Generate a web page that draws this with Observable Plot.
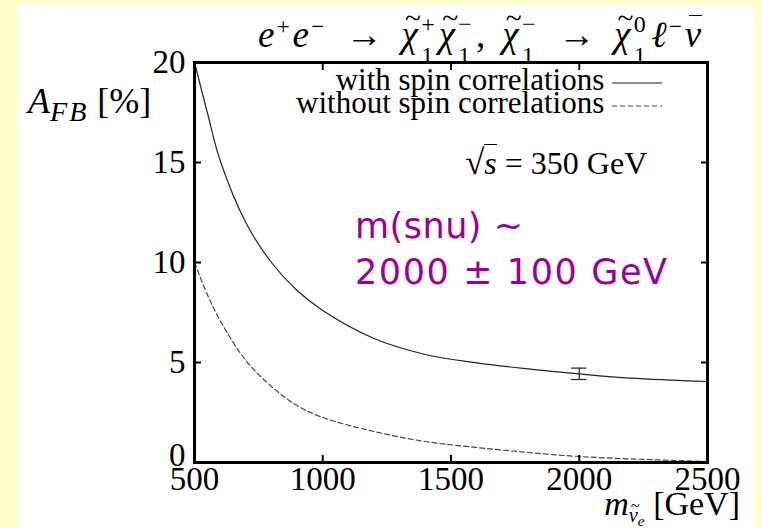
<!DOCTYPE html>
<html>
<head>
<meta charset="utf-8">
<script src="https://cdn.jsdelivr.net/npm/d3@7"></script>
<script src="https://cdn.jsdelivr.net/npm/@observablehq/plot@0.6"></script>
<style>
  html, body { margin: 0; padding: 0; }
  body { width: 761px; height: 528px; background: #FFFFCC; position: relative; overflow: hidden; font-family: "Liberation Serif", serif; }
  #panel { position: absolute; left: 17px; top: 5px; width: 737px; height: 523px; background: #ffffff; }
  #chart { position: absolute; left: 0; top: 0; }
  .ov { position: absolute; white-space: nowrap; color: #000; font-family: "Liberation Serif", "DejaVu Serif", serif; line-height: 1; }
  .ss { display: inline-block; position: relative; width: 0.85em; height: 0; font-size: 0.65em; font-style: normal; }
  .ss .up { position: absolute; left: 0.12em; top: -1.55em; line-height: 1.2; }
  .ss .dn { position: absolute; left: 0.12em; top: -0.25em; line-height: 1.2; }
  .acc { display: inline-block; position: relative; }
  .acc .tl { position: absolute; left: 0.12em; top: -0.42em; font-style: normal; font-size: 0.8em; }
  .acc .bar { position: absolute; left: 0.12em; top: -0.02em; width: 0.36em; border-top: 1.3px solid #000; }
  .sup { font-size: 0.62em; vertical-align: 0.55em; font-style: normal; margin-left: 0.08em; margin-right: 0.1em; }
  .arr { margin: 0 0.5em; }
  .purple { position: absolute; white-space: nowrap; color: #990099; font-family: "DejaVu Sans", sans-serif; font-size: 35px; }
</style>
</head>
<body>
<div id="panel"></div>
<div id="chart"></div>

<div class="ov" style="left:258px; top:16px; font-size:37px; letter-spacing:0.5px;">
  <i>e</i><span class="sup">+</span><i>e</i><span class="sup">−</span><span class="arr">→</span><span class="acc"><i>χ</i><span class="tl">~</span></span><span class="ss"><span class="up">+</span><span class="dn">1</span></span><span class="acc"><i>χ</i><span class="tl">~</span></span><span class="ss"><span class="up">−</span><span class="dn">1</span></span><span style="margin-right:0.45em">,</span><span class="acc"><i>χ</i><span class="tl">~</span></span><span class="ss"><span class="up">−</span><span class="dn">1</span></span><span class="arr">→</span><span class="acc"><i>χ</i><span class="tl">~</span></span><span class="ss"><span class="up">0</span><span class="dn">1</span></span><i>ℓ</i><span class="sup">−</span><span class="acc"><i>ν</i><span class="bar"></span></span>
</div>

<div class="ov" style="left:28px; top:83px; font-size:36px;">
  <i>A</i><sub style="font-size:0.78em; letter-spacing:2px;"><i>FB</i></sub> [%]
</div>

<div class="ov" style="right:99px; top:68px; font-size:31px; line-height:23px; text-align:right;">
  with spin correlations <svg width="50" height="10" style="vertical-align:middle"><line x1="0" x2="50" y1="5" y2="5" stroke="#222" stroke-width="1.2"/></svg><br>
  without spin correlations <svg width="50" height="10" style="vertical-align:middle"><line x1="0" x2="50" y1="5" y2="5" stroke="#444" stroke-width="1.2" stroke-dasharray="5,3"/></svg>
</div>

<div class="ov" style="left:465px; top:145px; font-size:32px;">
  <span style="font-size:1.1em">√</span><span style="border-top:1.5px solid #000;"><i>s</i></span> = 350 GeV
</div>

<div class="purple" style="left:355px; top:206px; letter-spacing:0.5px;">m(snu) ~</div>
<div class="purple" style="left:355px; top:252px; letter-spacing:1.6px;">2000 ± 100 GeV</div>

<div class="ov" style="right:21px; top:487px; font-size:34px;">
  <i>m</i><span style="font-size:0.6em; position:relative; top:0.35em;"><span class="acc"><i>ν</i><span class="tl">~</span></span><span style="font-size:0.75em; position:relative; top:0.25em;"><i>e</i></span></span> [GeV]
</div>

<script>
// Data
const mass = [500, 550, 600, 700, 800, 900, 1000, 1200, 1400, 1600, 1800, 2000, 2200, 2500];
const afbWithSpin = [20, 17.5, 15.1, 12.0, 10.0, 8.6, 7.6, 6.2, 5.4, 4.98, 4.68, 4.43, 4.22, 4.05];
const afbWithoutSpin = [10, 8.4, 7.1, 5.1, 3.8, 2.85, 2.25, 1.55, 1.05, 0.75, 0.5, 0.3, 0.18, 0.05];

const errMass = [2000];
const errCenter = [4.43];
const errLow = [4.15];
const errHigh = [4.72];
const errCapHalfWidth = 30; // in GeV units

const xTicks = [500, 1000, 1500, 2000, 2500];
const yTicks = [0, 5, 10, 15, 20];
const yTicksUpper = [5, 10, 15, 20];
const yTicksZero = [0];

const withSpin = mass.map((m, i) => ({m, a: afbWithSpin[i]}));
const withoutSpin = mass.map((m, i) => ({m, a: afbWithoutSpin[i]}));
const errData = errMass.map((m, i) => ({m, c: errCenter[i], lo: errLow[i], hi: errHigh[i], m1: m - errCapHalfWidth, m2: m + errCapHalfWidth}));

const fmt = d => String(d);

const chart = Plot.plot({
  width: 761,
  height: 528,
  marginLeft: 194,
  marginRight: 54,
  marginTop: 62,
  marginBottom: 66,
  x: {domain: [500, 2500]},
  y: {domain: [0, 20]},
  style: {background: "transparent", fontFamily: "Liberation Serif, serif", color: "#000", overflow: "visible"},
  marks: [
    Plot.line(withSpin, {x: "m", y: "a", curve: "catmull-rom", stroke: "#222", strokeWidth: 1.2}),
    Plot.line(withoutSpin, {x: "m", y: "a", curve: "catmull-rom", stroke: "#444", strokeWidth: 1.2, strokeDasharray: "5,3"}),
    Plot.ruleX(errData, {x: "m", y1: "lo", y2: "hi", stroke: "#222", strokeWidth: 1.2}),
    Plot.ruleY(errData, {y: "lo", x1: "m1", x2: "m2", stroke: "#222", strokeWidth: 1.2}),
    Plot.ruleY(errData, {y: "hi", x1: "m1", x2: "m2", stroke: "#222", strokeWidth: 1.2}),
    Plot.axisX({ticks: xTicks, tickSize: 0, tickPadding: 4, tickFormat: fmt, fontSize: 33, label: null}),
    Plot.axisX({ticks: xTicks, tickSize: -7, tickFormat: () => "", strokeWidth: 2, label: null}),
    Plot.axisX({anchor: "top", ticks: xTicks, tickSize: -7, tickFormat: () => "", strokeWidth: 2, label: null}),
    Plot.axisY({ticks: yTicksUpper, tickSize: 0, tickPadding: 9, tickFormat: fmt, fontSize: 33, label: null}),
    Plot.axisY({ticks: yTicksZero, tickSize: 0, tickPadding: 9, dy: -7, tickFormat: fmt, fontSize: 33, label: null}),
    Plot.axisY({ticks: yTicks, tickSize: -7, tickFormat: () => "", strokeWidth: 2, label: null}),
    Plot.axisY({anchor: "right", ticks: yTicks, tickSize: -7, tickFormat: () => "", strokeWidth: 2, label: null}),
    Plot.frame({strokeWidth: 3, stroke: "#000"})
  ]
});
document.getElementById("chart").appendChild(chart);
</script>
</body>
</html>
